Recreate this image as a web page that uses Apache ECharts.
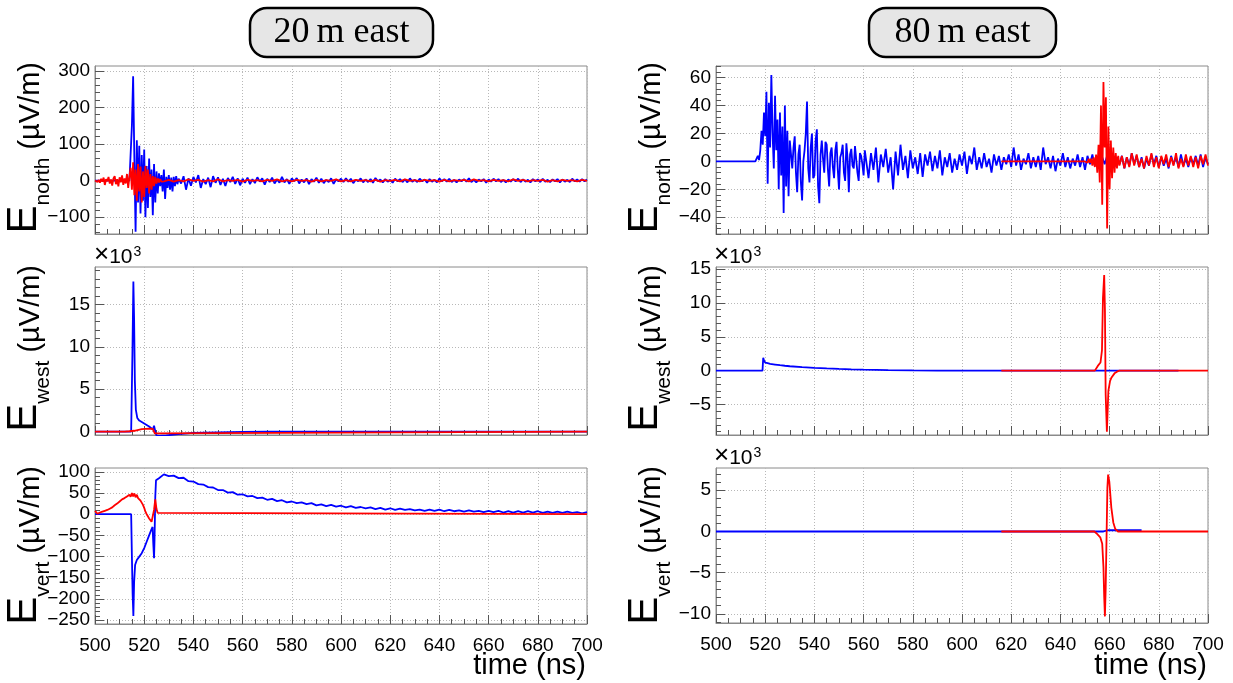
<!DOCTYPE html>
<html>
<head>
<meta charset="utf-8">
<script src="https://cdn.jsdelivr.net/npm/echarts@6.0.0/dist/echarts.min.js"></script>
<style>
html,body{margin:0;padding:0;background:#fff;}
#main{width:1233px;height:683px;}
</style>
</head>
<body>
<div id="main"></div>
<script>
// ---------------- DATA ----------------
const panelTitles = ['20\u2009m east', '80\u2009m east'];
const xTickLabels = [500, 520, 540, 560, 580, 600, 620, 640, 660, 680, 700];

// Y tick labels (major ticks) per panel
const ticksNorth20 = [-100, 0, 100, 200, 300];
const ticksWest20 = [0, 5000, 10000, 15000];
const ticksVert20 = [-250, -200, -150, -100, -50, 0, 50, 100];
const ticksNorth80 = [-40, -20, 0, 20, 40, 60];
const ticksWest80 = [-5000, 0, 5000, 10000, 15000];
const ticksVert80 = [-10000, -5000, 0, 5000];

// ---- 20 m east, E_north (uV/m) ----
const n20BlueLead = [[500, 0]];
// 0.5 ns samples 514-534 ns
const n20BlueBurst = [0, 5, 150, 285, 60, -140, 110, -60, 95, -90, 70, -55, 85, -100, 40,
  -75, 60, -45, 30, -95, 45, -60, 25, -35, 20, -15, 15, -30, 30, -50, 10, -20, 15, -25, 8,
  -30, 10, -15, 12, -10, 5];
// 1 ns samples 535-700 ns
const n20BlueTail = [
  -8, 12, -25, 6, -14, 10, -5, 15, -20, 4, -10, 8, -18, 12, -6, 9, -12, 5, -15, 7, -4, 10, -9, 6, -13, 5,
  -6, 8, -10, 4, -7, 9, -3, 6, -11, 5, -4, 8, -8, 3, -6, 10, -5, 4, -9, 6,
  -2, 7, -8, 3, -5, 6, -10, 4, -3, 8, -6, 5, -7, 2, -4, 6, -9, 3, -2, 5,
  -4, 6, -3, 5, -7, 2, -2, 6, -5, 3,
  -4, 4, -6, 7, -2, 3, -5, 4, -3, 2,
  -6, 5, -2, 4, -4, 3, -5, 6, -3, 2,
  -4, 5, -2, 3, -6, 4, -3, 2, -5, 6,
  -2, 4, -3, 5, -4, 2, -5, 3, -2, 4,
  -3, 6, -4, 2, -5, 3, -2, 4, -6, 3,
  -3, 5, -2, 4, -4, 2, -5, 3, -3, 4,
  -2, 5, -4, 3, -3, 2, -5, 4, -2, 3,
  -4, 5, -3, 2, -4, 3, -2, 4, -5, 3,
  -3, 2, -4, 5, -2, 3, -3, 4, -2, 3];
// red: 0.5 ns samples 500-528 ns, then 2 ns samples 530-700 ns
const n20RedBurst = [0, 3, -4, 2, -6, 5, -3, 8, -12, 4, -2, 10, -8, 3, -14, 6, 12, -10, 4, -16,
  9, -5, 14, -12, 6,
  -8, 18, -20, 12, 35, -25, 50, -40, 30, -55, 45, -30, 38, -60, 25, -45, 40, -20, 30, -35,
  18, -25, 12, -15, 10, -8, 6, -5, 4, -3, 2, -2];
const n20RedTail = [
  2, -3, 1, -2, 3, -1, 2, -3, 1, -2, 3, -2, 1, -1, 2, -3, 2, -1, 1, -2,
  2, -1, 3, -2, 1, -2, 2, -1, 1, -3, 2, -2, 1, -1, 3, -2, 1, -2, 2, -1,
  1, -2, 2, -3, 1, -1, 2, -2, 3, -1, 1, -2, 2, -1, 1, -3, 2, -2, 1, -1,
  2, -2, 3, -1, 1, -2, 2, -1, 1, -2, 3, -1, 2, -2, 1, -1, 2, -3, 1, -2,
  2, -1, 1, -2, 2, -1];

// ---- 20 m east, E_west (uV/m) ----
const w20Blue = [[500, 0], [514.7, 0], [515.2, 9000], [515.6, 17700], [515.9, 13200], [516.2, 6000],
  [516.6, 2600], [517.2, 1600], [518, 1300], [520, 950], [522, 600], [523.5, 250], [524, 700],
  [524.3, 650], [524.6, -100], [525, -450], [526, -500], [529, -450], [534, -300], [540, -150],
  [550, -80], [560, -40], [570, 0], [700, 0]];
const w20Red = [[500, 0], [512, 0], [514, 40], [516, 100], [519, 300], [522, 350], [523.5, 330],
  [524.3, -200], [525, 0], [700, 0]];

// ---- 20 m east, E_vert (uV/m) ----
const v20BlueDip = [[500, 0], [514.7, 0], [515, -100], [515.3, -190], [515.6, -240], [515.9, -160],
  [516.3, -120], [517, -108], [518, -100], [519, -92], [520, -80], [521, -65], [522, -50],
  [523, -35], [523.4, -30], [523.7, -70], [524, -104], [524.2, -60], [524.5, 40], [524.8, 80]];
// 2 ns samples 526-700 ns
const v20BlueTail = [85, 94, 90, 91, 85, 86, 78, 77, 71, 70, 64, 63, 57, 57, 51, 52, 46, 47, 42, 43,
  38, 39, 34, 36, 31, 33, 28, 30, 26, 28, 24, 26, 21, 23, 19, 22, 18, 20, 16, 19,
  15, 17, 14, 16, 12, 15, 11, 14, 10, 13, 10, 12, 9, 11, 8, 11, 8, 11, 7, 10,
  7, 9, 6, 9, 6, 8, 5, 8, 5, 8, 4, 7, 4, 7, 4, 7, 4, 7, 3, 6,
  3, 6, 3, 6, 3, 5, 2, 5];
// red: 0.5 ns samples 500-526 ns, then flat
const v20RedRise = [8, 4, 1, 2, 4, 3, 6, 5, 8, 7, 10, 9, 13, 12, 16, 17, 21, 20, 25, 27,
  30, 31, 35, 34, 38, 40, 42, 39, 46, 41, 50, 42, 49, 40, 46, 38, 40, 32, 30, 22,
  15, 6, 0, -5, -10, -14, -18, -20, 10, 35, 12, 3, 0];
const v20RedTail = [[526, 0], [700, 0]];

// ---- 80 m east, E_north (uV/m) ----
const n80BlueLead = [[500, 0], [516, 0]];
// 0.5 ns samples 516.5-530 ns
const n80BlueBurst = [2, 4, 1, 8, 22, 12, 35, 18, 50, -16, 42, 10, 62, 20, -5, 47, 8, 30,
  -20, 35, -10, 25, -37, 40, -18, 22, -25, 15];
// 0.5 ns samples 531-560.5 ns
const n80BlueMid = [-5, 10, 18, -8, -22, 5, 12, -15, -28, 0, 8, 20, 43, -5, -15, 10, 20, -12, -10, 15,
  23, -18, -30, 5, 15, 2, -8, 14, 12, -6,
  -18, 6, 10, -4, -12, 8, 14, -6, -20, 3, 6, 12, -8, -14, 13, 2, -22, 5, 9, -3,
  -5, 11, 11, -8, -14, 6, 4, -2, -10, 8];
// 1 ns samples 562-700 ns
const n80BlueTail = [
  -12, 6, -6, 10, -15, 5, -4, 9, -8, 3, -20, 7, -10, 12, -6, 4, -12, 8, -5, 3, -9, 6, -11, 5, -3, 7,
  -7, 4, -5, 8, -10, 3, -4, 6, -8, 2, -6, 5, -3, 7, -9, 4, -2, 10, -6, 3, -5, 6, -4, 2, -8, 5,
  -3, 4, -6, 3, -2, 5,
  -4, 10, -3, 5, -6, 2, -2, 6, -5, 3, -4, 4, -6, 10, -2, 3, -5, 4, -7, 2,
  -3, 6, -4, 3, -5, 2, -3, 5, -4, 3, -6, 4, -2, 5, -3, 4, -5, 3, -2, 4,
  -3, 5, -4, 3, -2, 4, -5, 3, -3, 6, -2, 4, -4, 3, -5, 2, -3, 5, -2, 4,
  -4, 3, -3, 2, -5, 4, -2, 3, -4, 5, -3, 2, -4, 3, -2, 4, -3, 5, -4, 3, -2];
const n80RedLead = [[616, 0], [650, 0]];
// 0.5 ns samples 650.5-664 ns
const n80RedBurst = [1, -1, 2, -1, 2, -3, 3, -4, 5, -8, 12, -15, 40, -31, 57, 10, 46, -48,
  25, -20, 15, -12, 10, -8, 6, -5, 4, -3];
// 1 ns samples 665-700 ns
const n80RedTail = [4, -5, 3, -4, 6, -3, 5, -4, 2, -5, 4, -3, 6, -4, 3, -5, 4, -2, 5, -4,
  3, -3, 6, -5, 2, -4, 5, -3, 4, -4, 3, -5, 4, -2, 5, -3];

// ---- 80 m east, E_west (uV/m) ----
const w80Blue = [[500, 0], [518.9, 0], [519.2, 1900], [519.5, 1500], [520, 1200], [521, 1100],
  [522, 1000], [524, 900], [526, 800], [528, 720], [530, 650], [535, 520], [540, 420],
  [545, 330], [550, 260], [555, 200], [560, 150], [570, 80], [580, 40], [590, 15], [600, 0],
  [688, 0]];
const w80Red = [[616, 0], [654, 0], [655.2, 700], [656.3, 1200], [656.9, 3000], [657.3, 10700],
  [657.8, 14100], [658.1, 9000], [658.4, -3500], [658.9, -9000], [659.5, -3000],
  [660.2, -1500], [660.8, -1000], [662, -400], [663, -150], [664, 0], [700, 0]];

// ---- 80 m east, E_vert (uV/m) ----
const v80Blue = [[500, 0], [657.5, 0], [659.5, 150], [673, 150]];
const v80Red = [[616, 0], [653.8, 0], [654.9, -300], [656.2, -700], [657, -1500], [657.5, -4300],
  [657.8, -7900], [658.1, -10300], [658.4, -7000], [658.8, 0], [659.1, 5300], [659.4, 6900],
  [659.9, 6000], [660.7, 2900], [661.5, 1100], [662.3, 300], [663.4, 0], [700, 0]];

// ---------------- helpers ----------------
function sampled(start, step, values) {
  return values.map((v, i) => [start + i * step, v]);
}
function minorTicks(min, max, step) {
  const out = [];
  for (let k = Math.ceil(min / step); k * step <= max + 1e-9; k++) out.push(k * step);
  return out;
}
function fmt(v, scale) {
  const s = Math.round(v / scale * 1000) / 1000;
  return s < 0 ? '\u2212' + Math.abs(s) : String(s);
}

const BLUE = '#0000ff', RED = '#ff0000';
const FONT = '"Liberation Sans", Arial, Helvetica, sans-serif';
const LW = 1.8;

const panels = [
  { grid: { left: 95, top: 66, width: 492, height: 168 }, min: -146, max: 313, major: ticksNorth20, minorStep: 20, scale: 1, showX: false,
    blue: n20BlueLead.concat(sampled(514, 0.5, n20BlueBurst), sampled(535, 1, n20BlueTail)),
    red: sampled(500, 0.5, n20RedBurst).concat(sampled(530, 2, n20RedTail)) },
  { grid: { left: 95, top: 267, width: 492, height: 168 }, min: -400, max: 19400, major: ticksWest20, minorStep: 1000, scale: 1000, showX: false,
    blue: w20Blue, red: w20Red },
  { grid: { left: 95, top: 468, width: 492, height: 156 }, min: -259, max: 109, major: ticksVert20, minorStep: 10, scale: 1, showX: true,
    blue: v20BlueDip.concat(sampled(526, 2, v20BlueTail)), red: sampled(500, 0.5, v20RedRise).concat(v20RedTail) },
  { grid: { left: 716, top: 66, width: 492, height: 168 }, min: -52, max: 68.4, major: ticksNorth80, minorStep: 4, scale: 1, showX: false,
    blue: n80BlueLead.concat(sampled(516.5, 0.5, n80BlueBurst), sampled(531, 0.5, n80BlueMid), sampled(562, 1, n80BlueTail)),
    red: n80RedLead.concat(sampled(650.5, 0.5, n80RedBurst), sampled(665, 1, n80RedTail)) },
  { grid: { left: 716, top: 267, width: 492, height: 168 }, min: -9500, max: 15300, major: ticksWest80, minorStep: 1000, scale: 1000, showX: false,
    blue: w80Blue, red: w80Red },
  { grid: { left: 716, top: 468, width: 492, height: 155 }, min: -11100, max: 7700, major: ticksVert80, minorStep: 1000, scale: 1000, showX: true,
    blue: v80Blue, red: v80Red }
];

const grid = [], xAxis = [], yAxis = [], series = [];
const dotted = { color: '#b8b8b8', width: 1, type: [1, 2] };
const tickColor = '#555';
panels.forEach((p, i) => {
  grid.push(Object.assign({ show: true, borderColor: '#8a8a8a', borderWidth: 1, backgroundColor: 'transparent' }, p.grid));
  xAxis.push({
    gridIndex: i, type: 'value', min: 500, max: 700, interval: 20,
    axisLine: { show: true, onZero: false, lineStyle: { color: '#8a8a8a', width: 1 } },
    axisTick: { show: true, inside: true, length: 9, lineStyle: { color: tickColor } },
    minorTick: { show: true, splitNumber: 4, length: 5, lineStyle: { color: tickColor } },
    axisLabel: { show: p.showX, fontSize: 19, fontFamily: FONT, color: '#000', margin: 12,
      customValues: xTickLabels },
    splitLine: { show: true, lineStyle: dotted }
  });
  yAxis.push({
    gridIndex: i, type: 'value', min: p.min, max: p.max, position: 'left',
    axisLine: { show: true, onZero: false, lineStyle: { color: '#8a8a8a', width: 1 } },
    axisTick: { show: true, inside: true, length: 9, customValues: p.major, lineStyle: { color: tickColor } },
    axisLabel: { show: true, customValues: p.major, fontSize: 19, fontFamily: FONT, color: '#000', margin: 5,
      formatter: (v) => fmt(v, p.scale) },
    splitLine: { show: true, lineStyle: dotted }
  });
  yAxis.push({
    gridIndex: i, type: 'value', min: p.min, max: p.max, position: 'left',
    axisLine: { show: false, onZero: false },
    axisTick: { show: true, inside: true, length: 5,
      customValues: minorTicks(p.min, p.max, p.minorStep).filter(v => p.major.indexOf(v) < 0),
      lineStyle: { color: tickColor } },
    axisLabel: { show: false },
    splitLine: { show: false }
  });
  series.push({ type: 'line', xAxisIndex: i, yAxisIndex: 2 * i, data: p.blue, showSymbol: false, symbol: 'none',
    lineStyle: { color: BLUE, width: LW }, z: 2, clip: true });
  series.push({ type: 'line', xAxisIndex: i, yAxisIndex: 2 * i, data: p.red, showSymbol: false, symbol: 'none',
    lineStyle: { color: RED, width: LW }, z: 3, clip: true });
});

// ---------------- texts ----------------
const richY = {
  e: { fontSize: 42, fontFamily: FONT, color: '#000', verticalAlign: 'bottom', lineHeight: 44, padding: [0, 0, 9, 0] },
  s: { fontSize: 21, fontFamily: FONT, color: '#000', verticalAlign: 'bottom', lineHeight: 22 },
  u: { fontSize: 29, fontFamily: FONT, color: '#000', verticalAlign: 'bottom', lineHeight: 31, padding: [0, 0, 9, 0] }
};
function yTitle(x, y, sub) {
  return { type: 'text', x: x, y: y, rotation: Math.PI / 2,
    style: { text: '{e|E}{s|' + sub + '}{u| (\u00b5V/m)}', rich: richY, align: 'right', verticalAlign: 'middle' } };
}
const richX = {
  m: { fontSize: 26, fontFamily: FONT, color: '#000', verticalAlign: 'bottom', lineHeight: 24 },
  a: { fontSize: 21, fontFamily: FONT, color: '#000', verticalAlign: 'bottom', lineHeight: 22 },
  p: { fontSize: 14, fontFamily: FONT, color: '#000', verticalAlign: 'bottom', lineHeight: 15, padding: [0, 0, 9, 1] }
};
function times10(x, y) {
  return { type: 'text', x: x, y: y,
    style: { text: '{m|\u00d7}{a|10}{p|3}', rich: richX, align: 'left', verticalAlign: 'bottom' } };
}
function titleBox(x, w, text) {
  return { type: 'group', children: [
    { type: 'rect', shape: { x: x, y: 8, width: w, height: 49, r: 17 },
      style: { fill: '#e6e6e6', stroke: '#000', lineWidth: 2.5 } },
    { type: 'text', x: x + w / 2, y: 33,
      style: { text: text, font: '36px "Liberation Serif", "Times New Roman", serif', fill: '#000', align: 'center', verticalAlign: 'middle' } }
  ] };
}
const graphic = [
  titleBox(250, 183, panelTitles[0]),
  titleBox(869, 187, panelTitles[1]),
  yTitle(32, 62, 'north'), yTitle(32, 265, 'west'), yTitle(32, 466, 'vert'),
  yTitle(653, 62, 'north'), yTitle(653, 265, 'west'), yTitle(653, 466, 'vert'),
  times10(94, 268), times10(714, 268), times10(714, 469),
  { type: 'text', x: 586, y: 666, style: { text: 'time (ns)', fontSize: 29, fontFamily: FONT, fill: '#000', align: 'right', verticalAlign: 'middle' } },
  { type: 'text', x: 1207, y: 666, style: { text: 'time (ns)', fontSize: 29, fontFamily: FONT, fill: '#000', align: 'right', verticalAlign: 'middle' } }
];

const chart = echarts.init(document.getElementById('main'), null, { renderer: 'canvas' });
chart.setOption({
  animation: false,
  backgroundColor: '#fff',
  grid: grid, xAxis: xAxis, yAxis: yAxis, series: series, graphic: graphic
});
</script>
</body>
</html>
